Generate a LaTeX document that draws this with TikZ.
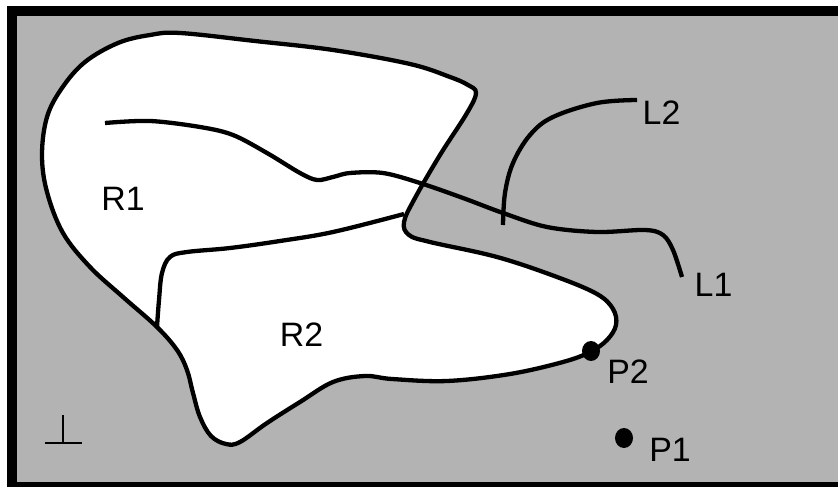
\documentclass[tikz,border=0pt]{standalone}
\usepackage{fontspec}
\setmainfont{Liberation Sans}
\usetikzlibrary{shapes.geometric}
\definecolor{bggray}{RGB}{179,179,179}
\begin{document}
\begin{tikzpicture}[x=1bp,y=-1bp,
  curve/.style={line width=4.3bp,line join=round},
  lbl/.style={inner sep=0pt,font=\fontsize{34}{40}\selectfont},
  dotmark/.style={ellipse,fill=black,inner sep=0pt,minimum width=18bp,minimum height=20bp}]
\useasboundingbox (0,0) rectangle (838,487);
\begin{scope}
\clip (0,0) rectangle (838,487);
\fill[bggray] (11,11) rectangle (850,492);
% union of R1 and R2
\draw[curve,fill=white] plot[smooth cycle,tension=0.6] coordinates {
 (180,33) (255,41) (333,50) (410,64) (450,77) (468,85) (476,93)
 (467,113) (440,155) (415,198) (404,222) (409,235) (430,242)
 (497,257) (557,277) (597,294) (613,309) (616,325) (607,340)
 (590,352) (563,362) (510,374) (447,381) (392,379) (365,376) (333,382)
 (300,402) (267,423) (240,442) (226,444) (211,436) (200,417) (193,393)
 (187,370) (177,350) (157,327) (123,297) (90,267) (63,233) (47,192)
 (42,155) (47,117) (62,88) (85,62) (118,43) (150,35)};
% divider between R1 and R2
\draw[curve] plot[smooth,tension=0.6] coordinates {
 (157,327) (159,300) (162,273) (170,257) (187,252) (230,248) (280,241) (333,232) (404,214)};
% line L1
\draw[curve] plot[smooth,tension=0.55] coordinates {
 (105,123) (150,121) (200,127) (233,135) (267,153) (300,173) (317,180)
 (333,177) (350,173) (383,173) (420,183) (463,198) (503,213) (547,227)
 (597,232) (645,230) (663,235) (673,250) (682,277)};
% line L2
\draw[curve] plot[smooth,tension=0.6] coordinates {
 (503,225) (505,193) (513,163) (530,135) (553,117) (597,103) (637,100)};
% bottom symbol
\draw[line width=2.7bp] (63,415) -- (63,443);
\draw[line width=2.7bp] (45,443) -- (82,443);
% points
\node[dotmark] (p2) at (591,351) {};
\node[dotmark] (p1) at (624,438) {};
% labels
\node[lbl] (r1) at (123,198.5) {R1};
\node[lbl] (r2) at (301.5,334.5) {R2};
\node[lbl] (l2) at (661.5,112.5) {L2};
\node[lbl] (l1) at (713.5,285) {L1};
\node[lbl] (p2l) at (628,371.5) {P2};
\node[lbl] (p1l) at (670,449.5) {P1};
% frame
\draw[line width=10bp] (11.5,11) rectangle (850,487);
\end{scope}
\end{tikzpicture}
\end{document}
